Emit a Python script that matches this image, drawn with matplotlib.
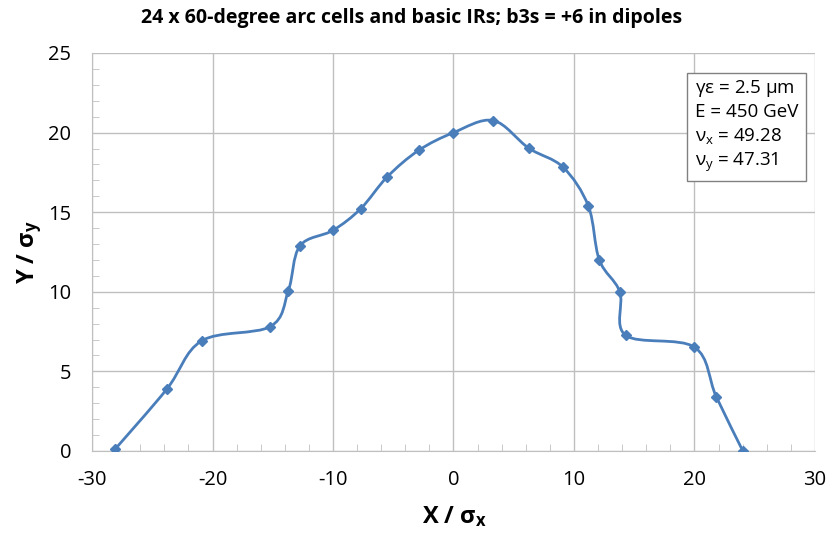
import matplotlib
matplotlib.use("Agg")
import matplotlib.pyplot as plt
from matplotlib.path import Path
from matplotlib.patches import PathPatch
from matplotlib.ticker import MultipleLocator
import numpy as np

plt.rcParams['font.family'] = ['Open Sans', 'DejaVu Sans']
plt.rcParams['mathtext.fontset'] = 'custom'
plt.rcParams['mathtext.rm'] = 'Open Sans'
plt.rcParams['mathtext.it'] = 'Open Sans'
plt.rcParams['mathtext.bf'] = 'Open Sans:bold'

title = "24 x 60-degree arc cells and basic IRs; b3s = +6 in dipoles"
x_vals = [-28.1, -23.8, -20.9, -15.2, -13.7, -12.75, -10.0, -7.7, -5.5, -2.9, 0.0,
          3.3, 6.25, 9.1, 11.2, 12.1, 13.8, 14.3, 20.0, 21.8, 24.0]
y_vals = [0.1, 3.88, 6.92, 7.82, 10.08, 12.88, 13.86, 15.22, 17.22, 18.88, 20.0,
          20.76, 19.02, 17.82, 15.37, 12.0, 10.0, 7.26, 6.52, 3.42, 0.02]
info_lines = [r"$\mathrm{\gamma\epsilon}$ = 2.5 $\mathrm{\mu}$m", "E = 450 GeV",
              r"$\mathrm{\nu_x}$ = 49.28", r"$\mathrm{\nu_y}$ = 47.31"]

color = '#4A7EBB'
grid_c = '#BFBFBF'

fig = plt.figure(figsize=(8.28, 5.33), dpi=100)
ax = fig.add_axes([92/828, 1-451/533, (815-92)/828, (451-53)/533])

# Catmull-Rom smoothed line (Excel style) as cubic Bezier path
P = np.column_stack([x_vals, y_vals])
n = len(P)
verts = [tuple(P[0])]
codes = [Path.MOVETO]
for i in range(n-1):
    p0 = P[i-1] if i > 0 else P[i]
    p1 = P[i]
    p2 = P[i+1]
    p3 = P[i+2] if i+2 < n else P[i+1]
    c1 = p1 + (p2 - p0) / 6.0
    c2 = p2 - (p3 - p1) / 6.0
    verts += [tuple(c1), tuple(c2), tuple(p2)]
    codes += [Path.CURVE4]*3
ax.add_patch(PathPatch(Path(verts, codes), facecolor='none', edgecolor=color, lw=2.0, zorder=3))
ax.plot(x_vals, y_vals, linestyle='none', marker='D', markersize=5.5, color=color, zorder=4)

ax.set_xlim(-30, 30)
ax.set_ylim(0, 25)
ax.xaxis.set_major_locator(MultipleLocator(10))
ax.yaxis.set_major_locator(MultipleLocator(5))
ax.xaxis.set_minor_locator(MultipleLocator(2))
ax.yaxis.set_minor_locator(MultipleLocator(1))
ax.grid(True, which='major', color=grid_c, lw=1.0)
ax.set_axisbelow(True)
for s in ['top', 'right']:
    ax.spines[s].set_visible(False)
for s in ['left', 'bottom']:
    ax.spines[s].set_color(grid_c)
ax.tick_params(which='major', length=0, labelsize=14.5)
ax.tick_params(axis='x', which='major', pad=14)
ax.tick_params(axis='y', which='major', pad=15)
ax.tick_params(which='minor', direction='in', length=5, color=grid_c)
ax.set_xticks([-30, -20, -10, 0, 10, 20, 30])
ax.set_xticklabels([f"{v}" for v in [-30, -20, -10, 0, 10, 20, 30]])
ax.set_yticks([0, 5, 10, 15, 20, 25])

fig.text(0.4976, 1-18/533, title, ha='center', va='center', fontsize=14, fontweight='bold')
fig.text(454/828, 1-517/533, r"X / $\mathbf{\sigma_x}$", ha='center', va='center', fontsize=17, fontweight='bold')
fig.text(30/828, 1-252/533, r"Y / $\mathbf{\sigma_y}$", ha='center', va='center', fontsize=17, fontweight='bold', rotation=90)

fig.text(695/828, 1-126/533, "\n".join(info_lines), ha='left', va='center', fontsize=13.5,
         linespacing=1.3,
         bbox=dict(boxstyle='square,pad=0.4', facecolor='white', edgecolor='#808080', lw=1.0))

fig.savefig('out.png', dpi=100)
